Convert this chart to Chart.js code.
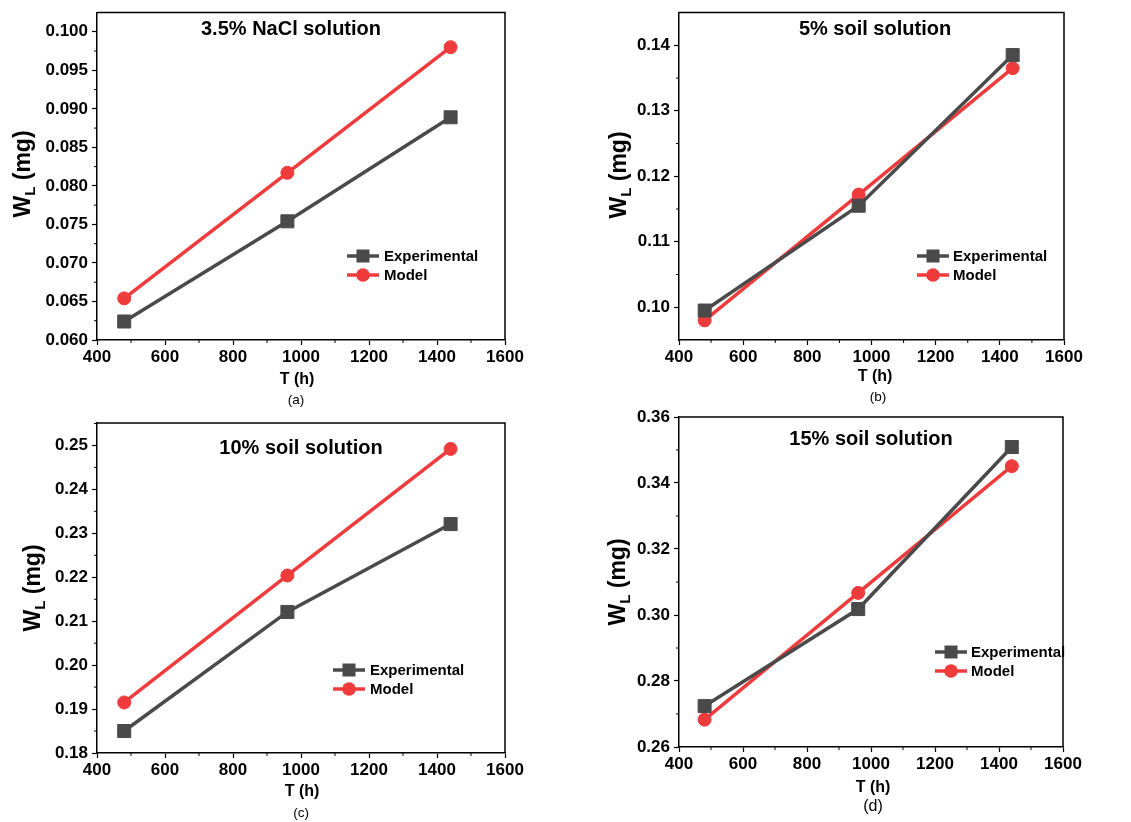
<!DOCTYPE html>
<html>
<head>
<meta charset="utf-8">
<script src="https://cdn.jsdelivr.net/npm/chart.js@4.4.1/dist/chart.umd.min.js"></script>
<style>
  body { margin: 0; background: #fff; }
  #wrap { position: relative; width: 1131px; height: 822px; overflow: hidden; }
  canvas { position: absolute; }
</style>
</head>
<body>
<div id="wrap">
  <canvas id="chartA" width="565" height="411" style="left:0px;top:0px"></canvas>
  <canvas id="chartB" width="566" height="411" style="left:565px;top:0px"></canvas>
  <canvas id="chartC" width="565" height="427" style="left:0px;top:395px"></canvas>
  <canvas id="chartD" width="566" height="427" style="left:565px;top:395px"></canvas>
</div>
<script>
const FONT = 'Arial, "Liberation Sans", sans-serif';

// immersion time (h)
const hours = [480, 960, 1440];
const timeTicks = [400, 600, 800, 1000, 1200, 1400, 1600];

// weight loss (mg)
const naclExp = [0.0624, 0.0754, 0.0889];
const naclModel = [0.0654, 0.0817, 0.0980];
const soil5Exp = [0.0995, 0.1155, 0.1385];
const soil5Model = [0.0980, 0.1172, 0.1365];
const soil10Exp = [0.1850, 0.2121, 0.2321];
const soil10Model = [0.1915, 0.2204, 0.2492];
const soil15Exp = [0.2724, 0.3018, 0.3509];
const soil15Model = [0.2683, 0.3067, 0.3451];

const naclTicks = [0.060, 0.065, 0.070, 0.075, 0.080, 0.085, 0.090, 0.095, 0.100];
const soil5Ticks = [0.10, 0.11, 0.12, 0.13, 0.14];
const soil10Ticks = [0.18, 0.19, 0.20, 0.21, 0.22, 0.23, 0.24, 0.25];
const soil15Ticks = [0.26, 0.28, 0.30, 0.32, 0.34, 0.36];

const seriesNames = ['Experimental', 'Model'];
const GREY = '#4a4a4a';
const RED = '#ef3b3b';

const panels = [
  { id: 'chartA', title: '3.5% NaCl solution', caption: '(a)', exp: naclExp, model: naclModel,
    yTicks: naclTicks, yMin: 0.060, yMax: 0.1025, dec: 3,
    yW: 97, xH: 71, top: 10, right: 60,
    titleAt: [291, 29], yTitleAt: [30, 174], xTitleAt: [297, 380], capAt: [296, 400], capSize: 13.5,
    legAt: [363, 256], legText: 384 },
  { id: 'chartB', title: '5% soil solution', caption: '(b)', exp: soil5Exp, model: soil5Model,
    yTicks: soil5Ticks, yMin: 0.095, yMax: 0.145, dec: 2,
    yW: 114, xH: 71, top: 10, right: 67,
    titleAt: [310, 29], yTitleAt: [61, 175], xTitleAt: [310, 377], capAt: [313, 397], capSize: 13.5,
    legAt: [368, 256], legText: 388 },
  { id: 'chartC', title: '10% soil solution', caption: '(c)', exp: soil10Exp, model: soil10Model,
    yTicks: soil10Ticks, yMin: 0.18, yMax: 0.2551, dec: 2,
    yW: 97, xH: 69, top: 28, right: 60,
    titleAt: [301, 53], yTitleAt: [40, 193], xTitleAt: [302, 397], capAt: [301, 418], capSize: 13.5,
    legAt: [349, 275], legText: 370 },
  { id: 'chartD', title: '15% soil solution', caption: '(d)', exp: soil15Exp, model: soil15Model,
    yTicks: soil15Ticks, yMin: 0.26, yMax: 0.36, dec: 2,
    yW: 114, xH: 75, top: 22, right: 68,
    titleAt: [306, 44], yTitleAt: [60, 187], xTitleAt: [308, 393], capAt: [308, 412], capSize: 16,
    legAt: [386, 257], legText: 406 },
];

// frame, minor ticks, axis titles, in-plot title and legend
const decor = {
  id: 'decor',
  afterDraw(chart, args, p) {
    const { ctx, chartArea: a, scales: { x, y } } = chart;
    ctx.save();
    ctx.strokeStyle = '#000';
    ctx.lineWidth = 1.5;
    ctx.beginPath();
    ctx.moveTo(a.left, a.top);
    ctx.lineTo(a.right, a.top);
    ctx.lineTo(a.right, a.bottom);
    ctx.stroke();

    ctx.lineWidth = 1;
    const xt = x.ticks.map(t => t.value);
    for (let i = 0; i < xt.length - 1; i++) {
      const px = x.getPixelForValue((xt[i] + xt[i + 1]) / 2);
      ctx.beginPath();
      ctx.moveTo(px, a.bottom);
      ctx.lineTo(px, a.bottom + 3);
      ctx.stroke();
    }
    const yt = y.ticks.map(t => t.value);
    const ystep = yt[1] - yt[0];
    for (let i = 0; i < yt.length; i++) {
      const v = yt[i] + ystep / 2;
      if (v > y.max) break;
      const py = y.getPixelForValue(v);
      ctx.beginPath();
      ctx.moveTo(a.left, py);
      ctx.lineTo(a.left - 3, py);
      ctx.stroke();
    }

    ctx.fillStyle = '#000';
    ctx.textAlign = 'center';
    ctx.textBaseline = 'middle';
    ctx.font = 'bold 20px ' + FONT;
    ctx.fillText(p.title, p.titleAt[0], p.titleAt[1]);
    ctx.font = 'bold 16px ' + FONT;
    ctx.fillText('T (h)', p.xTitleAt[0], p.xTitleAt[1]);
    ctx.font = p.capSize + 'px ' + FONT;
    ctx.fillText(p.caption, p.capAt[0], p.capAt[1]);

    // W_L (mg), rotated
    ctx.save();
    ctx.translate(p.yTitleAt[0], p.yTitleAt[1]);
    ctx.rotate(-Math.PI / 2);
    ctx.textAlign = 'left';
    ctx.textBaseline = 'alphabetic';
    ctx.font = 'bold 23px ' + FONT;
    const wW = ctx.measureText('W').width;
    const wR = ctx.measureText(' (mg)').width;
    ctx.font = 'bold 15px ' + FONT;
    const wL = ctx.measureText('L').width;
    let sx = -(wW + wL + wR) / 2;
    ctx.font = 'bold 23px ' + FONT;
    ctx.fillText('W', sx, 0);
    ctx.font = 'bold 15px ' + FONT;
    ctx.fillText('L', sx + wW, 5);
    ctx.font = 'bold 23px ' + FONT;
    ctx.fillText(' (mg)', sx + wW + wL, 0);
    ctx.restore();

    // legend
    chart.data.datasets.forEach((ds, i) => {
      const cx = p.legAt[0];
      const cy = p.legAt[1] + i * 19;
      ctx.strokeStyle = ds.borderColor;
      ctx.fillStyle = ds.borderColor;
      ctx.lineWidth = ds.borderWidth;
      ctx.beginPath();
      ctx.moveTo(cx - 16, cy);
      ctx.lineTo(cx + 16, cy);
      ctx.stroke();
      if (ds.pointStyle === 'rect') {
        ctx.fillRect(cx - 6.5, cy - 6.5, 13, 13);
      } else {
        ctx.beginPath();
        ctx.arc(cx, cy, 6.8, 0, Math.PI * 2);
        ctx.fill();
      }
      ctx.fillStyle = '#000';
      ctx.textAlign = 'left';
      ctx.textBaseline = 'middle';
      ctx.font = 'bold 15px ' + FONT;
      ctx.fillText(ds.label, p.legText, cy + 1);
    });
    ctx.restore();
  }
};

function series(label, values, color, style, radius) {
  return {
    label: label,
    data: hours.map((h, i) => ({ x: h, y: values[i] })),
    borderColor: color,
    backgroundColor: color,
    borderWidth: 3.5,
    pointStyle: style,
    pointRadius: radius,
    pointBorderWidth: 1,
    pointHoverRadius: radius,
    tension: 0,
  };
}

const tickFont = { family: FONT, size: 17, weight: 'bold', lineHeight: 1 };

panels.forEach(p => {
  new Chart(document.getElementById(p.id), {
    type: 'line',
    data: {
      datasets: [
        series(seriesNames[0], p.exp, GREY, 'rect', 9.2),
        series(seriesNames[1], p.model, RED, 'circle', 6.5),
      ],
    },
    options: {
      responsive: false,
      animation: false,
      layout: { padding: { left: 0, top: p.top, right: p.right, bottom: 0 } },
      plugins: { legend: { display: false }, tooltip: { enabled: false }, decor: p },
      scales: {
        x: {
          type: 'linear', min: 400, max: 1600,
          afterBuildTicks: s => { s.ticks = timeTicks.map(v => ({ value: v })); },
          afterFit: s => { s.height = p.xH; },
          grid: { drawOnChartArea: false, tickLength: 5, tickColor: '#000', tickWidth: 1.2 },
          border: { color: '#000', width: 1.5 },
          ticks: { color: '#000', font: tickFont, padding: 4, maxRotation: 0, autoSkip: false,
                   callback: v => String(v) },
        },
        y: {
          type: 'linear', min: p.yMin, max: p.yMax,
          afterBuildTicks: s => { s.ticks = p.yTicks.map(v => ({ value: v })); },
          afterFit: s => { s.width = p.yW; },
          grid: { drawOnChartArea: false, tickLength: 5, tickColor: '#000', tickWidth: 1.2 },
          border: { color: '#000', width: 1.5 },
          ticks: { color: '#000', font: tickFont, padding: 4, autoSkip: false,
                   callback: v => v.toFixed(p.dec) },
        },
      },
    },
    plugins: [decor],
  });
});
</script>
</body>
</html>
